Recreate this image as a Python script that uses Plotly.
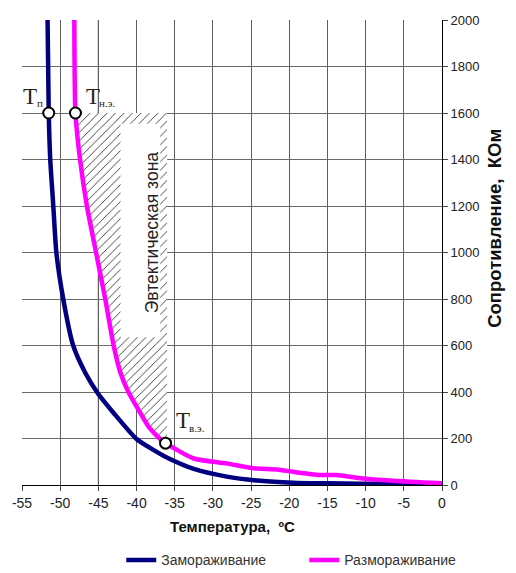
import plotly.graph_objects as go

# ---- data ----
freeze_t = [-51.65, -51.5, -51.3, -50.9, -50.5, -49.6, -48.3, -46.7, -45.1, -43.0, -40.0,
            -37.8, -35.9, -32.5, -28.2, -23.8, -19.5, -15.0, -6.4, 0.0]
freeze_r = [2000, 1600, 1400, 1200, 1000, 800, 600, 482, 396, 310, 198,
            151, 116, 69, 36, 18, 10, 7, 4, 3]
thaw_t = [-48.15, -48.0, -47.4, -46.5, -45.3, -44.1, -43.0, -42.1, -41.0, -39.5, -38.4,
          -36.9, -36.2, -32.5, -28.2, -24.7, -21.6, -19.5, -16.0, -13.8, -10.7, -6.4, 0.0]
thaw_r = [2000, 1600, 1400, 1200, 1000, 800, 600, 482, 396, 310, 250,
          198, 180, 114, 93, 72, 67, 57, 43, 43, 29, 18, 7]
x_ticks = [-55, -50, -45, -40, -35, -30, -25, -20, -15, -10, -5, 0]
x_tick_labels = ["-55", "-50", "-45", "-40", "-35", "-30", "-25", "-20", "-15", "-10", "-5", "0"]
y_ticks = [0, 200, 400, 600, 800, 1000, 1200, 1400, 1600, 1800, 2000]
# key points
tp = (-51.5, 1600)
tne = (-48.0, 1600)
tve = (-36.2, 180)
zone_right = -36.0
zone_box_x = [-42.1, -36.9]
zone_box_y = [635, 1554]
dark_grid_x = -45
series_names = ["Замораживание", "Размораживание"]

fig = go.Figure()

# hatched eutectic zone
zt = [t for t, r in zip(thaw_t, thaw_r) if tve[1] <= r <= tne[1]]
zr = [r for r in thaw_r if tve[1] <= r <= tne[1]]
poly_x = zt + [zone_right, zone_right]
poly_y = zr + [tve[1], tne[1]]
fig.add_trace(go.Scatter(x=poly_x, y=poly_y, fill="toself", mode="none",
                         fillcolor="white",
                         fillpattern=dict(shape="/", fgcolor="#333", bgcolor="white",
                                          size=6, solidity=0.15, fillmode="replace"),
                         showlegend=False, hoverinfo="skip"))
# white box for label
bx = [zone_box_x[0], zone_box_x[1], zone_box_x[1], zone_box_x[0], zone_box_x[0]]
by = [zone_box_y[0], zone_box_y[0], zone_box_y[1], zone_box_y[1], zone_box_y[0]]
fig.add_trace(go.Scatter(x=bx, y=by, fill="toself", mode="none", fillcolor="white",
                         showlegend=False, hoverinfo="skip"))

fig.add_trace(go.Scatter(x=freeze_t, y=freeze_r, mode="lines", name=series_names[0],
                         line=dict(color="#000080", width=4.5, shape="spline", smoothing=0.6)))
fig.add_trace(go.Scatter(x=thaw_t, y=thaw_r, mode="lines", name=series_names[1],
                         line=dict(color="#ff00ff", width=4.5, shape="spline", smoothing=0.6)))
fig.add_trace(go.Scatter(x=[tp[0], tne[0], tve[0]], y=[tp[1], tne[1], tve[1]], mode="markers",
                         marker=dict(size=11, color="white", line=dict(color="black", width=2)),
                         showlegend=False, hoverinfo="skip"))

# darker grid line (drawn under traces)
fig.add_shape(type="line", xref="x", yref="y", x0=dark_grid_x, x1=dark_grid_x, y0=0, y1=2000,
              line=dict(color="black", width=1), layer="below")

# pixel helpers for text placement (paper coordinates)
def px2x(px):
    return (px - 21.7) / 420.0

def py2y(py):
    return (485 - py) / 465.0

serif = "Liberation Serif"
tcol = "#2a2218"
anns = []
for (tx, ty, sx, sy, sub) in [(20.5, 96, 34.5, 103, "п"), (84, 96, 97, 103, "н.э."),
                              (174, 420, 187, 428, "в.э.")]:
    anns.append(dict(x=px2x(tx), y=py2y(ty), text="T", showarrow=False, xanchor="left",
                     yanchor="middle", font=dict(family=serif, size=23, color=tcol)))
    anns.append(dict(x=px2x(sx), y=py2y(sy), text=sub, showarrow=False, xanchor="left",
                     yanchor="middle", font=dict(family=serif, size=11, color=tcol)))
anns.append(dict(x=px2x(140), y=py2y(232), text="Эвтектическая зона", textangle=-90,
                 showarrow=False, font=dict(family="Liberation Sans", size=17.5, color="#222")))
anns.append(dict(x=px2x(232), y=py2y(537), text="<b>Температура,  ºС</b>", showarrow=False,
                 font=dict(family="Liberation Sans", size=15, color="#111")))
anns.append(dict(x=px2x(507), y=py2y(228), text="<b>Сопротивление,  КОм</b>", textangle=-90,
                 showarrow=False, font=dict(family="Liberation Sans", size=18.5, color="#111")))
for a in anns:
    a["xref"] = "paper"
    a["yref"] = "paper"

# the page body adds an 8px offset, compensated in the margins
fig.update_layout(
    width=516, height=573,
    margin=dict(l=14, r=82, t=12, b=96, autoexpand=False),
    paper_bgcolor="white", plot_bgcolor="white",
    font=dict(family="Liberation Sans", size=14, color="#222"),
    annotations=anns,
    showlegend=True,
    legend=dict(orientation="h", x=0.672, xanchor="center", y=-0.162, yanchor="middle",
                font=dict(size=14, color="#333"), entrywidth=138),
)
fig.update_xaxes(range=[-55, 0], tickvals=x_ticks, ticktext=x_tick_labels, showgrid=True,
                 gridcolor="#5e5e5e", gridwidth=1, automargin=False,
                 showline=True, linecolor="black", linewidth=1, ticks="outside", ticklen=5,
                 tickcolor="#444", zeroline=False, tickfont=dict(size=14))
fig.update_yaxes(range=[0, 2000], tickvals=y_ticks, side="right", showgrid=True, gridcolor="#6a6a6a",
                 gridwidth=1, showline=True, linecolor="black", linewidth=1, ticks="outside",
                 ticklen=5, tickcolor="#444", zeroline=False, tickfont=dict(size=13), automargin=False)

fig.write_html("out.html")
